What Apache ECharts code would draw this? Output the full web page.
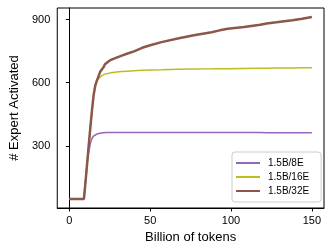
<!DOCTYPE html>
<html>
<head>
<meta charset="utf-8">
<script src="https://cdn.jsdelivr.net/npm/echarts@6/dist/echarts.min.js"></script>
<style>html,body{margin:0;padding:0;background:#fff}#c{width:333px;height:252px}</style>
</head>
<body>
<div id="c"></div>
<script>
const tokens    = [0, 9, 10, 11, 12, 13, 14, 15, 16, 17, 18, 19, 20, 21, 22, 23, 25, 28, 32, 36, 40, 45, 50, 57, 67, 77, 88, 93, 94, 98, 108, 109, 118, 122, 128, 138, 144, 150];
const expert8E  = [48, 48, 130, 215, 272, 312, 335, 347, 353, 356, 358, 360, 361, 362, 362, 363, 363, 364, 364, 364, 364, 364, 364, 364, 364, 363, 363, 363, 363, 363, 363, 363, 363, 362, 362, 362, 362, 362];
const expert16E = [48, 48, 130, 218, 305, 390, 470, 540, 583, 606, 620, 628, 634, 638, 641, 643, 646, 650, 653, 655, 657, 659, 661, 662, 664, 665, 666, 667, 667, 667, 668, 668, 669, 669, 670, 670, 671, 671];
const expert32E = [48, 48, 130, 218, 305, 390, 470, 542, 586, 610, 630, 652, 648, 672, 688, 696, 706, 716, 728, 739, 749, 766, 778, 793, 810, 826, 840, 849, 855, 857, 865, 870, 876, 882, 887, 897, 904, 912];
const seriesNames = ['1.5B/8E', '1.5B/16E', '1.5B/32E'];
const xTicks = [0, 50, 100, 150];
const yTicks = [300, 600, 900];

const pair = (ys) => tokens.map((t, i) => [t, ys[i]]);
const font = 'Liberation Sans, Arial, sans-serif';
const chart = echarts.init(document.getElementById('c'), null, {renderer: 'canvas'});
chart.setOption({
  animation: false,
  backgroundColor: '#fff',
  textStyle: {fontFamily: font},
  grid: {left: 54, top: 8, right: 9, bottom: 44, show: true, borderColor: '#000', borderWidth: 1, backgroundColor: 'transparent'},
  xAxis: {
    type: 'value', min: -7.5, max: 157.5,
    name: 'Billion of tokens', nameLocation: 'middle', nameGap: 22,
    nameTextStyle: {fontSize: 13, color: '#000', fontFamily: font},
    axisLine: {show: true, lineStyle: {color: '#000', width: 1}},
    axisTick: {show: true, length: 3.5, lineStyle: {color: '#000'}, customValues: xTicks},
    axisLabel: {color: '#000', fontSize: 11, margin: 7, fontFamily: font, customValues: xTicks},
    splitLine: {show: false}
  },
  yAxis: {
    type: 'value', min: 4.8, max: 955.2,
    name: '# Expert Activated', nameLocation: 'middle', nameGap: 33,
    nameTextStyle: {fontSize: 13, color: '#000', fontFamily: font},
    axisLine: {show: true, lineStyle: {color: '#000', width: 1}},
    axisTick: {show: true, length: 3.5, lineStyle: {color: '#000'}, customValues: yTicks},
    axisLabel: {color: '#000', fontSize: 11, margin: 7, fontFamily: font, customValues: yTicks},
    splitLine: {show: false}
  },
  legend: {
    orient: 'vertical', left: 232, top: 152,
    padding: [5, 12, 5, 4], itemGap: 2, itemWidth: 24, itemHeight: 2, icon: 'rect',
    borderColor: '#cccccc', borderWidth: 1, borderRadius: 3, backgroundColor: 'rgba(255,255,255,0.8)',
    textStyle: {fontSize: 10, color: '#000', lineHeight: 12, fontFamily: font, padding: [0, 0, 0, 3]},
    data: seriesNames
  },
  series: [
    {name: seriesNames[0], type: 'line', data: pair(expert8E), symbol: 'none', color: '#9467bd', lineStyle: {width: 1.5, color: '#9467bd'}, z: 2},
    {name: seriesNames[1], type: 'line', data: pair(expert16E), symbol: 'none', color: '#bcbd22', lineStyle: {width: 1.5, color: '#bcbd22'}, z: 3},
    {name: seriesNames[2], type: 'line', data: pair(expert32E), symbol: 'none', color: '#8c564b', lineStyle: {width: 2.5, color: '#8c564b'}, z: 4}
  ]
});
</script>
</body>
</html>
